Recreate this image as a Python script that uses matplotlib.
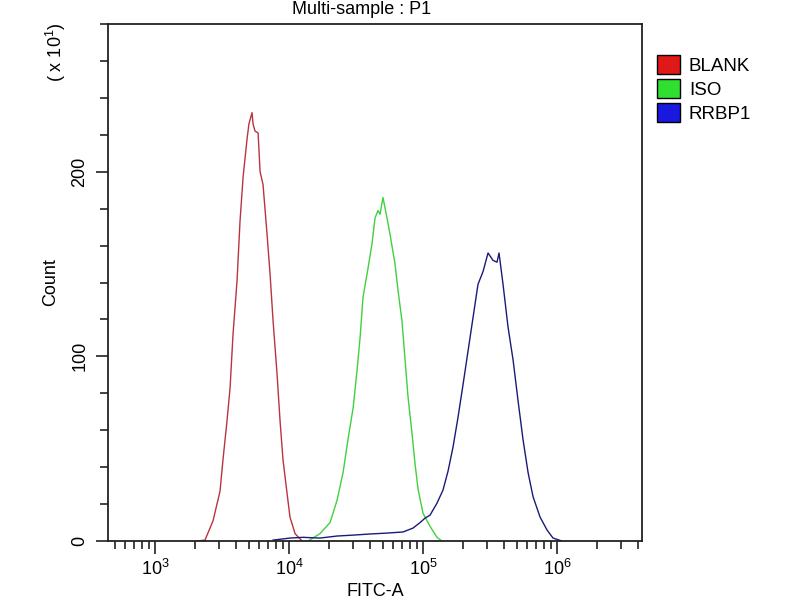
import matplotlib
matplotlib.use('Agg')
import matplotlib.pyplot as plt
import numpy as np
from matplotlib.patches import Patch
from matplotlib.ticker import LogLocator, MultipleLocator, NullFormatter

plt.rcParams['font.family'] = ['Liberation Sans', 'DejaVu Sans']
plt.rcParams['mathtext.fontset'] = 'custom'
plt.rcParams['mathtext.rm'] = 'Liberation Sans'

# log10(FITC-A) and counts
blank_log = [3.313, 3.373, 3.433, 3.485, 3.507, 3.537, 3.560, 3.582, 3.612, 3.634,
             3.657, 3.687, 3.701, 3.724, 3.731, 3.746, 3.769, 3.784, 3.806, 3.836,
             3.858, 3.881, 3.910, 3.933, 3.955, 3.985, 4.007, 4.045, 4.097]
blank_cnt = [0, 0.5, 11, 27, 44, 65, 83, 112, 141, 173,
             197, 218, 226, 232, 226, 222, 221, 200, 193, 166,
             145, 119, 91, 65, 44, 26, 13, 4, 0]

iso_log = [4.142, 4.231, 4.306, 4.358, 4.403, 4.440, 4.478, 4.507, 4.530, 4.552,
           4.590, 4.619, 4.642, 4.664, 4.679, 4.701, 4.731, 4.754, 4.791, 4.813,
           4.843, 4.866, 4.888, 4.918, 4.940, 4.963, 5.000, 5.052, 5.104, 5.142]
iso_cnt = [0, 4, 10, 22, 37, 55, 72, 92, 110, 132,
           148, 161, 175, 179, 177, 186, 175, 166, 150, 136,
           119, 98, 78, 58, 42, 28, 15, 8, 2, 0]

rrbp1_log = [3.881, 4.007, 4.104, 4.231, 4.358, 4.478, 4.604, 4.731, 4.851, 4.925,
             4.978, 5.015, 5.052, 5.104, 5.149, 5.187, 5.224, 5.261, 5.299, 5.336,
             5.373, 5.410, 5.448, 5.485, 5.522, 5.552, 5.567, 5.597, 5.634, 5.672,
             5.709, 5.746, 5.784, 5.821, 5.873, 5.925, 5.970, 6.037]
rrbp1_cnt = [0.5, 1.6, 2, 1.6, 2.7, 3.2, 3.8, 4.3, 4.9, 7,
             10, 12.4, 14, 20.5, 27.6, 38, 51, 67, 85, 103,
             121, 139, 146, 156, 152, 151, 156, 139, 116, 98,
             76, 55, 37, 24, 13, 6, 1.6, 0]

labels = ['BLANK', 'ISO', 'RRBP1']
fill_colors = ['#e01818', '#30e030', '#1818e0']
line_colors = ['#b8343f', '#40d040', '#1a1a78']

fig = plt.figure(figsize=(8, 6), dpi=100)
ax = fig.add_axes([0.135, 0.0983, 0.6675, 0.8617])

series = [(blank_log, blank_cnt), (iso_log, iso_cnt), (rrbp1_log, rrbp1_cnt)]
for (lx, cy), col in zip(series, line_colors):
    ax.plot(10 ** np.array(lx), cy, color=col, lw=1.0)

ax.set_xscale('log')
ax.set_xlim(10 ** 2.649, 10 ** 6.634)
ax.set_ylim(0, 280)

ax.xaxis.set_major_locator(LogLocator(base=10, numticks=10))
ax.xaxis.set_minor_locator(LogLocator(base=10, subs=np.arange(2, 10), numticks=20))
ax.xaxis.set_minor_formatter(NullFormatter())
ax.yaxis.set_major_locator(MultipleLocator(100))
ax.yaxis.set_minor_locator(MultipleLocator(20))

ax.tick_params(which='major', length=9, width=1.2, labelsize=13, color='#222222')
ax.tick_params(which='minor', length=6, width=1.2, color='#222222')
ax.tick_params(axis='x', pad=4)
ax.tick_params(axis='y', pad=5)
for lab in ax.get_yticklabels():
    lab.set_rotation(90)
    lab.set_va('center')
for sp in ax.spines.values():
    sp.set_linewidth(1.3)
    sp.set_color('#222222')

ax.set_xlabel('FITC-A', fontsize=13, labelpad=3)
ax.set_ylabel('Count', fontsize=13, labelpad=9)

fig.text(362 / 800, 1 - 9 / 600, 'Multi-sample : P1', ha='center', va='center', fontsize=13)
fig.text(56 / 800, 1 - 52 / 600, '( x 10$^{1}$)', ha='center', va='center', rotation=90, fontsize=13)

handles = [Patch(facecolor=c, edgecolor='black', lw=1) for c in fill_colors]
fig.legend(handles, labels, loc='upper left', bbox_to_anchor=(657 / 800, 1 - 55 / 600),
           frameon=False, fontsize=13.5, handlelength=1.2, handleheight=1.2,
           handletextpad=0.5, labelspacing=0.22, borderpad=0, borderaxespad=0)

fig.savefig('out.png', dpi=100)
